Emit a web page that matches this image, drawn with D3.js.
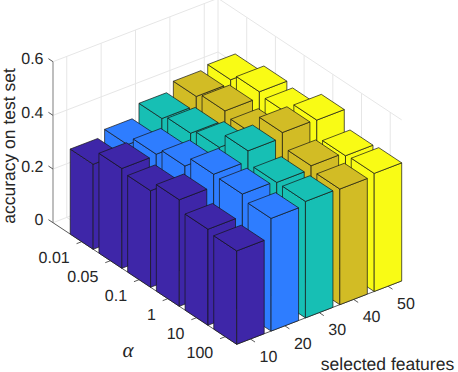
<!DOCTYPE html>
<html>
<head>
<meta charset="utf-8">
<script src="https://cdn.jsdelivr.net/npm/d3@7"></script>
<style>
    html, body { margin: 0; background: #fff; }
    svg { display: block; }
    text { font-family: "Liberation Sans", Arial, sans-serif; fill: #262626; text-rendering: geometricPrecision; }
</style>
</head>
<body>
<div id="chart"></div>
<script>
const alphaLabels = ['0.01', '0.05', '0.1', '1', '10', '100']
const featureLabels = ['10', '20', '30', '40', '50']
const zTicks = [0, 0.2, 0.4, 0.6]
const barColors = ['#3e26a8', '#2e7dff', '#17bfb4', '#d2bc25', '#f9fb15']

// one list per selected-features count, in alpha order
const acc10 = [0.317, 0.372, 0.360, 0.397, 0.358, 0.348]
const acc20 = [0.341, 0.376, 0.403, 0.443, 0.440, 0.420]
const acc30 = [0.389, 0.405, 0.423, 0.481, 0.434, 0.434]
const acc40 = [0.422, 0.439, 0.422, 0.500, 0.447, 0.431]
const acc50 = [0.435, 0.461, 0.450, 0.497, 0.435, 0.440]
const series = [acc10, acc20, acc30, acc40, acc50]

const width = 458, height = 372

// orthographic view: each data axis gets its own screen x and y scale
const alphaLim = [0, 6.4], featureLim = [0.6, 5.4], zLim = [0, 0.6]
const alphaX = d3.scaleLinear().domain(alphaLim).range([0, 183.7])
const alphaY = d3.scaleLinear().domain(alphaLim).range([0, 121.6])
const featX = d3.scaleLinear().domain(featureLim).range([0, 165])
const featY = d3.scaleLinear().domain(featureLim).range([0, -63.4])
const zY = d3.scaleLinear().domain(zLim).range([222.7, 61.7])
const originX = 53

const project = (a, f, z) => [
    originX + alphaX(a) + featX(f),
    zY(z) + alphaY(a) + featY(f)
]
const poly = pts => pts.map(p => p.join(',')).join(' ')
const segment = (g, p, q, stroke, w) => g.append('line')
    .attr('x1', p[0]).attr('y1', p[1])
    .attr('x2', q[0]).attr('y2', q[1])
    .attr('stroke', stroke).attr('stroke-width', w)

const svg = d3.select('#chart').append('svg')
    .attr('width', width).attr('height', height)

// grid on the floor and the two back walls
const grid = svg.append('g')
const gridColor = '#e6e6e6'
const [a0, a1] = alphaLim, [f0, f1] = featureLim, [z0, z1] = zLim
alphaLabels.forEach((d, i) => {
    const a = i + 1
    segment(grid, project(a, f0, z0), project(a, f1, z0), gridColor, 1)
    segment(grid, project(a, f1, z0), project(a, f1, z1), gridColor, 1)
})
featureLabels.forEach((d, i) => {
    const f = i + 1
    segment(grid, project(a0, f, z0), project(a1, f, z0), gridColor, 1)
    segment(grid, project(a0, f, z0), project(a0, f, z1), gridColor, 1)
})
zTicks.forEach(z => {
    segment(grid, project(a0, f0, z), project(a0, f1, z), gridColor, 1)
    segment(grid, project(a0, f1, z), project(a1, f1, z), gridColor, 1)
})
segment(grid, project(a0, f1, z0), project(a0, f1, z1), gridColor, 1)

// axis lines and ticks
const axes = svg.append('g')
const axisColor = '#5a5a5a'
segment(axes, project(a0, f0, z0), project(a0, f0, z1), '#a8a8a8', 1.5)
segment(axes, project(a0, f0, z0), project(a1, f0, z0), axisColor, 1)
segment(axes, project(a1, f0, z0), project(a1, f1, z0), axisColor, 1)
alphaLabels.forEach((d, i) => {
    const a = i + 1
    segment(axes, project(a, f0, z0), project(a, f0 - 0.15, z0), axisColor, 1)
})
featureLabels.forEach((d, i) => {
    const f = i + 1
    segment(axes, project(a1, f, z0), project(a1 + 0.16, f, z0), axisColor, 1)
})
zTicks.forEach(z => {
    segment(axes, project(a0, f0, z), project(a0 - 0.16, f0, z), axisColor, 1)
})

// bars, painted from the back corner forward
const half = 0.4
const bars = svg.append('g')
alphaLabels.forEach((d, i) => {
    d3.range(featureLabels.length - 1, -1, -1).forEach(j => {
        const a = i + 1, f = j + 1, z = series[j][i]
        const faces = [
            [[a - half, f - half], [a + half, f - half], [a + half, f - half, 1], [a - half, f - half, 1]],
            [[a + half, f - half], [a + half, f + half], [a + half, f + half, 1], [a + half, f - half, 1]],
            [[a - half, f - half, 1], [a + half, f - half, 1], [a + half, f + half, 1], [a - half, f + half, 1]]
        ]
        bars.selectAll(null)
            .data(faces)
            .join('polygon')
            .attr('points', face => poly(face.map(c => project(c[0], c[1], c[2] ? z : 0))))
            .attr('fill', barColors[j])
            .attr('stroke', '#161616')
            .attr('stroke-opacity', .7)
            .attr('stroke-width', 1)
            .attr('stroke-linejoin', 'round')
    })
})

// tick labels and axis titles
const labels = svg.append('g').style('font-size', '16px')
zTicks.forEach(z => {
    const p = project(a0, f0, z)
    labels.append('text').text(z)
        .attr('x', p[0] - 9.5).attr('y', p[1] - 1.5)
        .attr('text-anchor', 'end').attr('dominant-baseline', 'middle')
})
alphaLabels.forEach((d, i) => {
    const p = project(i + 1, f0, z0)
    labels.append('text').text(d)
        .attr('x', p[0] - 12).attr('y', p[1] + 21.5)
        .attr('text-anchor', 'end')
})
featureLabels.forEach((d, i) => {
    const p = project(a1, i + 1, z0)
    labels.append('text').text(d)
        .attr('x', p[0] + 18).attr('y', p[1] + 22.7)
        .attr('text-anchor', 'middle')
})
svg.append('text').text('accuracy on test set')
    .attr('transform', 'translate(15,146) rotate(-90)')
    .attr('text-anchor', 'middle')
    .style('font-size', '17.5px')
svg.append('text').text('selected features')
    .attr('x', 387.5).attr('y', 369.5)
    .attr('text-anchor', 'middle')
    .style('font-size', '17.5px')
svg.append('text').text('α')
    .attr('x', 128).attr('y', 357)
    .attr('text-anchor', 'middle')
    .style('font-family', '"Liberation Serif", serif')
    .style('font-style', 'italic')
    .style('font-size', '21px')
</script>
</body>
</html>
